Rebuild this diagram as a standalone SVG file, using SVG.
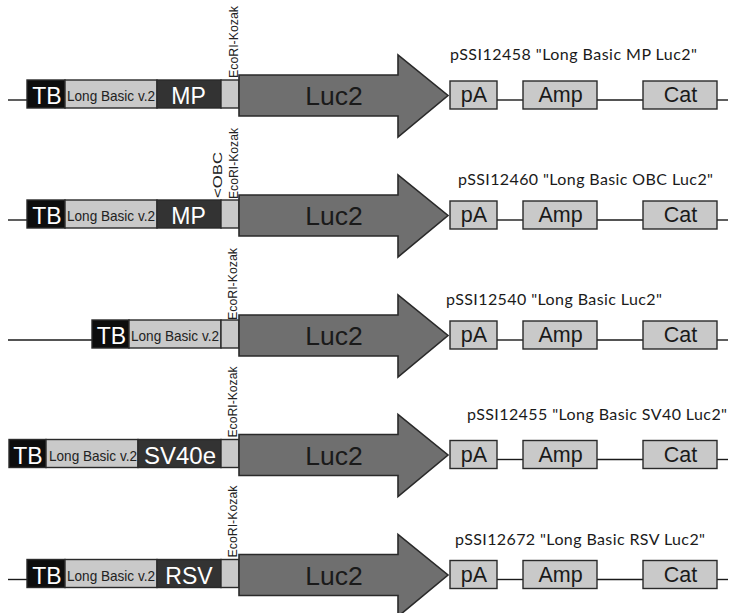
<svg xmlns="http://www.w3.org/2000/svg" width="731" height="613" viewBox="0 0 731 613">
<style>
.bg{fill:#ffffff}
.ln{stroke:#1a1a1a;stroke-width:1.4;fill:none}
.tb{fill:#0d0d0d;stroke:#2a2a2a;stroke-width:1.4}
.dk{fill:#333333;stroke:#2a2a2a;stroke-width:1.4}
.lt{fill:#c9c9c9;stroke:#2a2a2a;stroke-width:1.4}
.arr{fill:#6f6f6f;stroke:#2a2a2a;stroke-width:1.6;stroke-linejoin:miter}
.big{font-family:"Liberation Sans",Arial,sans-serif;font-size:23px;fill:#ffffff;text-anchor:middle}
.lb{font-family:"Liberation Sans",Arial,sans-serif;font-size:14.5px;fill:#222222}
.luc{font-family:"Liberation Sans",Arial,sans-serif;font-size:26.5px;fill:#1a1a1a;text-anchor:middle}
.bx{font-family:"Liberation Sans",Arial,sans-serif;font-size:21.5px;fill:#1a1a1a;text-anchor:middle}
.eco{font-family:"Liberation Sans",Arial,sans-serif;font-size:12px;fill:#222222}
.ttl{font-family:Lato,"Open Sans",sans-serif;font-size:16px;fill:#1a1a1a}
</style>
<defs>
<polygon id="arrowShape" class="arr" points="239,75 398,75 398,55 448,95.5 398,137 398,116 239,116"/>
</defs>
<rect class="bg" x="0" y="0" width="731" height="613"/>

<!-- Row 1 -->
<g id="row1">
 <g id="r1-connectors">
  <line class="ln" x1="8" y1="100" x2="27" y2="100"/>
  <line class="ln" x1="497" y1="100" x2="523" y2="100"/>
  <line class="ln" x1="597" y1="100" x2="643" y2="100"/>
  <line class="ln" x1="717" y1="100" x2="728" y2="100"/>
 </g>
 <g id="r1-tb"><rect class="tb" x="27" y="80" width="38" height="28"/><text class="big" x="47" y="104">TB</text></g>
 <g id="r1-lb"><rect class="lt" x="65" y="80" width="92" height="28"/><text class="lb" x="67" y="101" textLength="88" lengthAdjust="spacingAndGlyphs">Long Basic v.2</text></g>
 <g id="r1-mp"><rect class="dk" x="157" y="80" width="64" height="28"/><text class="big" x="188.5" y="104">MP</text></g>
 <g id="r1-eco"><rect class="lt" x="221" y="80" width="18" height="28"/><text class="eco" transform="translate(238,78) rotate(-90)" textLength="72" lengthAdjust="spacingAndGlyphs">EcoRI-Kozak</text></g>
 <g id="r1-luc2"><use href="#arrowShape"/><text class="luc" x="334" y="105">Luc2</text></g>
 <g id="r1-pa"><rect class="lt" x="450" y="81" width="47" height="28"/><text class="bx" x="474" y="102">pA</text></g>
 <g id="r1-amp"><rect class="lt" x="523" y="81" width="74" height="28"/><text class="bx" x="560.5" y="102">Amp</text></g>
 <g id="r1-cat"><rect class="lt" x="643" y="81" width="74" height="28"/><text class="bx" x="680.5" y="102">Cat</text></g>
 <text id="r1-title" class="ttl" x="450" y="60" textLength="247">pSSI12458 &quot;Long Basic MP Luc2&quot;</text>
</g>

<!-- Row 2 -->
<g id="row2" transform="translate(0,120)">
 <g id="r2-connectors">
  <line class="ln" x1="8" y1="100" x2="27" y2="100"/>
  <line class="ln" x1="497" y1="100" x2="523" y2="100"/>
  <line class="ln" x1="597" y1="100" x2="643" y2="100"/>
  <line class="ln" x1="717" y1="100" x2="728" y2="100"/>
 </g>
 <g id="r2-tb"><rect class="tb" x="27" y="80" width="38" height="28"/><text class="big" x="47" y="104">TB</text></g>
 <g id="r2-lb"><rect class="lt" x="65" y="80" width="92" height="28"/><text class="lb" x="67" y="101" textLength="88" lengthAdjust="spacingAndGlyphs">Long Basic v.2</text></g>
 <g id="r2-mp"><rect class="dk" x="157" y="80" width="64" height="28"/><text class="big" x="188.5" y="104">MP</text></g>
 <g id="r2-obc"><text class="eco" transform="translate(221.5,78) rotate(-90)" style="font-size:12.5px" textLength="46" lengthAdjust="spacingAndGlyphs">&lt;OBC</text></g>
 <g id="r2-eco"><rect class="lt" x="221" y="80" width="18" height="28"/><text class="eco" transform="translate(238,79) rotate(-90)" textLength="71" lengthAdjust="spacingAndGlyphs">EcoRI-Kozak</text></g>
 <g id="r2-luc2"><use href="#arrowShape"/><text class="luc" x="334" y="105">Luc2</text></g>
 <g id="r2-pa"><rect class="lt" x="450" y="81" width="47" height="28"/><text class="bx" x="474" y="102">pA</text></g>
 <g id="r2-amp"><rect class="lt" x="523" y="81" width="74" height="28"/><text class="bx" x="560.5" y="102">Amp</text></g>
 <g id="r2-cat"><rect class="lt" x="643" y="81" width="74" height="28"/><text class="bx" x="680.5" y="102">Cat</text></g>
 <text id="r2-title" class="ttl" x="458" y="65" textLength="255">pSSI12460 &quot;Long Basic OBC Luc2&quot;</text>
</g>

<!-- Row 3 -->
<g id="row3" transform="translate(0,240)">
 <g id="r3-connectors">
  <line class="ln" x1="8" y1="100" x2="92" y2="100"/>
  <line class="ln" x1="497" y1="100" x2="523" y2="100"/>
  <line class="ln" x1="597" y1="100" x2="643" y2="100"/>
  <line class="ln" x1="717" y1="100" x2="728" y2="100"/>
 </g>
 <g id="r3-tb"><rect class="tb" x="92" y="80" width="37" height="28"/><text class="big" x="111.5" y="104">TB</text></g>
 <g id="r3-lb"><rect class="lt" x="129" y="80" width="92" height="28"/><text class="lb" x="131" y="101" textLength="88" lengthAdjust="spacingAndGlyphs">Long Basic v.2</text></g>
 <g id="r3-eco"><rect class="lt" x="221" y="80" width="18" height="28"/><text class="eco" transform="translate(237,80) rotate(-90)" textLength="72" lengthAdjust="spacingAndGlyphs">EcoRI-Kozak</text></g>
 <g id="r3-luc2"><use href="#arrowShape"/><text class="luc" x="334" y="105">Luc2</text></g>
 <g id="r3-pa"><rect class="lt" x="450" y="81" width="47" height="28"/><text class="bx" x="474" y="102">pA</text></g>
 <g id="r3-amp"><rect class="lt" x="523" y="81" width="74" height="28"/><text class="bx" x="560.5" y="102">Amp</text></g>
 <g id="r3-cat"><rect class="lt" x="643" y="81" width="74" height="28"/><text class="bx" x="680.5" y="102">Cat</text></g>
 <text id="r3-title" class="ttl" x="446" y="65" textLength="216">pSSI12540 &quot;Long Basic Luc2&quot;</text>
</g>

<!-- Row 4 -->
<g id="row4" transform="translate(0,359.5)">
 <g id="r4-connectors">
  <line class="ln" x1="497" y1="100" x2="523" y2="100"/>
  <line class="ln" x1="597" y1="100" x2="643" y2="100"/>
  <line class="ln" x1="717" y1="100" x2="728" y2="100"/>
 </g>
 <g id="r4-tb"><rect class="tb" x="9" y="80" width="37" height="28"/><text class="big" x="28" y="104">TB</text></g>
 <g id="r4-lb"><rect class="lt" x="46" y="80" width="92" height="28"/><text class="lb" x="49" y="101" textLength="88" lengthAdjust="spacingAndGlyphs">Long Basic v.2</text></g>
 <g id="r4-sv40e"><rect class="dk" x="138" y="80" width="83" height="28"/><text class="big" x="180" y="104" style="font-size:24px">SV40e</text></g>
 <g id="r4-eco"><rect class="lt" x="221" y="80" width="18" height="28"/><text class="eco" transform="translate(237,78) rotate(-90)" textLength="71" lengthAdjust="spacingAndGlyphs">EcoRI-Kozak</text></g>
 <g id="r4-luc2"><use href="#arrowShape"/><text class="luc" x="334" y="105">Luc2</text></g>
 <g id="r4-pa"><rect class="lt" x="450" y="81" width="47" height="28"/><text class="bx" x="474" y="102">pA</text></g>
 <g id="r4-amp"><rect class="lt" x="523" y="81" width="74" height="28"/><text class="bx" x="560.5" y="102">Amp</text></g>
 <g id="r4-cat"><rect class="lt" x="643" y="81" width="74" height="28"/><text class="bx" x="680.5" y="102">Cat</text></g>
 <text id="r4-title" class="ttl" x="467" y="60.5" textLength="260">pSSI12455 &quot;Long Basic SV40 Luc2&quot;</text>
</g>

<!-- Row 5 -->
<g id="row5" transform="translate(0,479.5)">
 <g id="r5-connectors">
  <line class="ln" x1="8" y1="100" x2="27" y2="100"/>
  <line class="ln" x1="497" y1="100" x2="523" y2="100"/>
  <line class="ln" x1="597" y1="100" x2="643" y2="100"/>
  <line class="ln" x1="717" y1="100" x2="728" y2="100"/>
 </g>
 <g id="r5-tb"><rect class="tb" x="27" y="80" width="38" height="28"/><text class="big" x="47" y="104">TB</text></g>
 <g id="r5-lb"><rect class="lt" x="65" y="80" width="92" height="28"/><text class="lb" x="67" y="101" textLength="88" lengthAdjust="spacingAndGlyphs">Long Basic v.2</text></g>
 <g id="r5-rsv"><rect class="dk" x="157" y="80" width="64" height="28"/><text class="big" x="189" y="104">RSV</text></g>
 <g id="r5-eco"><rect class="lt" x="221" y="80" width="18" height="28"/><text class="eco" transform="translate(237,78) rotate(-90)" textLength="72" lengthAdjust="spacingAndGlyphs">EcoRI-Kozak</text></g>
 <g id="r5-luc2"><use href="#arrowShape"/><text class="luc" x="334" y="105">Luc2</text></g>
 <g id="r5-pa"><rect class="lt" x="450" y="81" width="47" height="28"/><text class="bx" x="474" y="102">pA</text></g>
 <g id="r5-amp"><rect class="lt" x="523" y="81" width="74" height="28"/><text class="bx" x="560.5" y="102">Amp</text></g>
 <g id="r5-cat"><rect class="lt" x="643" y="81" width="74" height="28"/><text class="bx" x="680.5" y="102">Cat</text></g>
 <text id="r5-title" class="ttl" x="455" y="65.5" textLength="250">pSSI12672 &quot;Long Basic RSV Luc2&quot;</text>
</g>
</svg>
